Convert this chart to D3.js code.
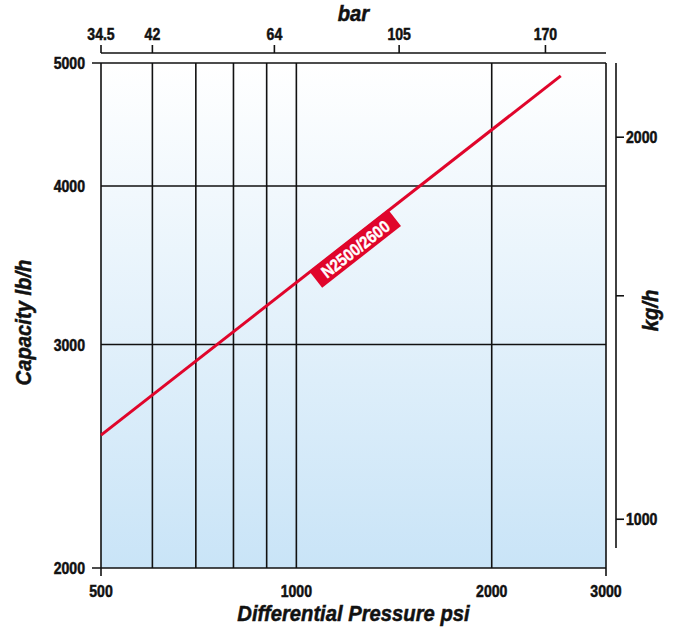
<!DOCTYPE html>
<html>
<head>
<meta charset="utf-8">
<script src="https://cdn.jsdelivr.net/npm/d3@7"></script>
<style>
  body { margin: 0; background: #fff; }
  text { font-family: "Liberation Sans", Arial, sans-serif; font-weight: bold; fill: #111; stroke: #111; stroke-width: 0.5px; }
  text.light { fill: #fff; stroke: #fff; stroke-width: 0.4px; }
</style>
</head>
<body>
<div id="chart-area"></div>
<script>
// Data
const psiTicks = [500, 1000, 2000, 3000]
const psiGrid = [600, 700, 800, 900, 1000, 2000]
const lbTicks = [2000, 3000, 4000, 5000]
const lbGrid = [3000, 4000]
const barLabels = ["34.5", "42", "64", "105", "170"]
const barTickPsi = [500, 600, 925, 1440, 2420]
const kgTicks = [1000, 1500, 2000]
const kgLabels = ["1000", "", "2000"]
const lineName = "N2500/2600"
const linePsi = [500, 2555]
const lineLb = [2545, 4885]

const MARGIN = { LEFT: 101, RIGHT: 69, TOP: 63, BOTTOM: 59 }
const WIDTH = 675 - MARGIN.LEFT - MARGIN.RIGHT
const HEIGHT = 627 - MARGIN.TOP - MARGIN.BOTTOM
const LB_PER_KG = 2.185
const SQUEEZE = 0.88   // fake a condensed face
const TITLE_SQUEEZE = 0.92
const TICK_FONT = "16px"

const svg = d3.select("#chart-area").append("svg")
    .attr("width", 675)
    .attr("height", 627)

const g = svg.append("g")
    .attr("transform", `translate(${MARGIN.LEFT}, ${MARGIN.TOP})`)

// Scales
const x = d3.scaleLog()
    .domain([500, 3000])
    .range([0, WIDTH])

const y = d3.scaleLog()
    .domain([2000, 5000])
    .range([HEIGHT, 0])

const yKg = d3.scaleLog()
    .domain([2000 / LB_PER_KG, 5000 / LB_PER_KG])
    .range([HEIGHT, 0])

// position + squeeze helper for text
const place = (px, py, rot, s = SQUEEZE) => `translate(${px}, ${py})` + (rot ? ` rotate(${rot})` : "") + ` scale(${s}, 1)`

// Background gradient
const grad = svg.append("defs").append("linearGradient")
    .attr("id", "bg")
    .attr("x1", 0).attr("y1", 0).attr("x2", 0).attr("y2", 1)
grad.append("stop").attr("offset", "0%").attr("stop-color", "#ffffff")
grad.append("stop").attr("offset", "100%").attr("stop-color", "#c9e4f7")

g.append("rect")
    .attr("width", WIDTH)
    .attr("height", HEIGHT)
    .attr("fill", "url(#bg)")

// Grid
g.selectAll(".vgrid")
    .data(psiGrid)
    .enter().append("line")
    .attr("class", "vgrid")
    .attr("x1", d => x(d)).attr("x2", d => x(d))
    .attr("y1", 0).attr("y2", HEIGHT)
    .attr("stroke", "#111").attr("stroke-width", 1.6)

g.selectAll(".hgrid")
    .data(lbGrid)
    .enter().append("line")
    .attr("class", "hgrid")
    .attr("x1", 0).attr("x2", WIDTH)
    .attr("y1", d => y(d)).attr("y2", d => y(d))
    .attr("stroke", "#111").attr("stroke-width", 1.6)

// Frame (extends past corners like the original)
const frame = g.append("g").attr("stroke", "#111").attr("stroke-width", 1.6)
frame.append("line").attr("x1", -9).attr("x2", WIDTH).attr("y1", 0).attr("y2", 0)
frame.append("line").attr("x1", -9).attr("x2", WIDTH).attr("y1", HEIGHT).attr("y2", HEIGHT)
frame.append("line").attr("x1", 0).attr("x2", 0).attr("y1", 0).attr("y2", HEIGHT + 8)
frame.append("line").attr("x1", WIDTH).attr("x2", WIDTH).attr("y1", 0).attr("y2", HEIGHT + 8)

// Bottom axis labels
g.selectAll(".xlab")
    .data(psiTicks)
    .enter().append("text")
    .attr("class", "xlab")
    .attr("transform", d => place(x(d), HEIGHT + 29))
    .attr("text-anchor", "middle")
    .attr("font-size", TICK_FONT)
    .text(d => d)

// Left axis labels
g.selectAll(".ylab")
    .data(lbTicks)
    .enter().append("text")
    .attr("class", "ylab")
    .attr("transform", d => place(-16, y(d) + 6))
    .attr("text-anchor", "end")
    .attr("font-size", TICK_FONT)
    .text(d => d)

// Top bar axis
const topY = -10
g.append("line")
    .attr("x1", 0).attr("x2", WIDTH)
    .attr("y1", topY).attr("y2", topY)
    .attr("stroke", "#111").attr("stroke-width", 1.6)
g.selectAll(".btick")
    .data(barTickPsi)
    .enter().append("line")
    .attr("class", "btick")
    .attr("x1", d => x(d)).attr("x2", d => x(d))
    .attr("y1", topY).attr("y2", topY - 8)
    .attr("stroke", "#111").attr("stroke-width", 1.6)
g.selectAll(".blab")
    .data(barTickPsi)
    .enter().append("text")
    .attr("class", "blab")
    .attr("transform", d => place(x(d), topY - 13))
    .attr("text-anchor", "middle")
    .attr("font-size", TICK_FONT)
    .text((d, i) => barLabels[i])

// Right kg/h axis
const rightX = WIDTH + 10
g.append("line")
    .attr("x1", rightX).attr("x2", rightX)
    .attr("y1", 0).attr("y2", HEIGHT - 20)
    .attr("stroke", "#111").attr("stroke-width", 1.6)
g.selectAll(".ktick")
    .data(kgTicks)
    .enter().append("line")
    .attr("class", "ktick")
    .attr("x1", rightX).attr("x2", rightX + 8)
    .attr("y1", d => yKg(d)).attr("y2", d => yKg(d))
    .attr("stroke", "#111").attr("stroke-width", 1.6)
g.selectAll(".klab")
    .data(kgTicks)
    .enter().append("text")
    .attr("class", "klab")
    .attr("transform", d => place(rightX + 10, yKg(d) + 6))
    .attr("font-size", TICK_FONT)
    .text((d, i) => kgLabels[i])

// Axis titles
g.append("text")
    .attr("transform", place(WIDTH / 2, HEIGHT + 53, 0, TITLE_SQUEEZE))
    .attr("text-anchor", "middle")
    .attr("font-size", "22px")
    .attr("font-style", "italic")
    .text("Differential Pressure psi")
g.append("text")
    .attr("transform", place(WIDTH / 2, -42, 0, TITLE_SQUEEZE))
    .attr("text-anchor", "middle")
    .attr("font-size", "22px")
    .attr("font-style", "italic")
    .text("bar")
g.append("text")
    .attr("transform", place(-70, HEIGHT / 2 + 7, -90, TITLE_SQUEEZE))
    .attr("text-anchor", "middle")
    .attr("font-size", "22px")
    .attr("font-style", "italic")
    .text("Capacity lb/h")
g.append("text")
    .attr("transform", place(WIDTH + 52, HEIGHT / 2 - 5, -90, TITLE_SQUEEZE))
    .attr("text-anchor", "middle")
    .attr("font-size", "22px")
    .attr("font-style", "italic")
    .text("kg/h")

// Red capacity line
const pts = linePsi.map((p, i) => [p, lineLb[i]])
g.append("path")
    .datum(pts)
    .attr("fill", "none")
    .attr("stroke", "#e0052b")
    .attr("stroke-width", 3)
    .attr("d", d3.line().x(d => x(d[0])).y(d => y(d[1])))

// Line label
const x0 = x(pts[0][0]), y0 = y(pts[0][1])
const x1 = x(pts[1][0]), y1 = y(pts[1][1])
const angle = Math.atan2(y1 - y0, x1 - x0) * 180 / Math.PI
const t = 0.54
const lx = x0 + (x1 - x0) * t, ly = y0 + (y1 - y0) * t
const label = g.append("g")
    .attr("transform", `translate(${lx}, ${ly}) rotate(${angle})`)
label.append("rect")
    .attr("x", -50).attr("y", -1)
    .attr("width", 100).attr("height", 21)
    .attr("fill", "#e0052b")
label.append("text")
    .attr("class", "light")
    .attr("transform", `translate(0, 16) scale(${SQUEEZE}, 1)`)
    .attr("text-anchor", "middle")
    .attr("font-size", "17px")
    .text(lineName)
</script>
</body>
</html>
